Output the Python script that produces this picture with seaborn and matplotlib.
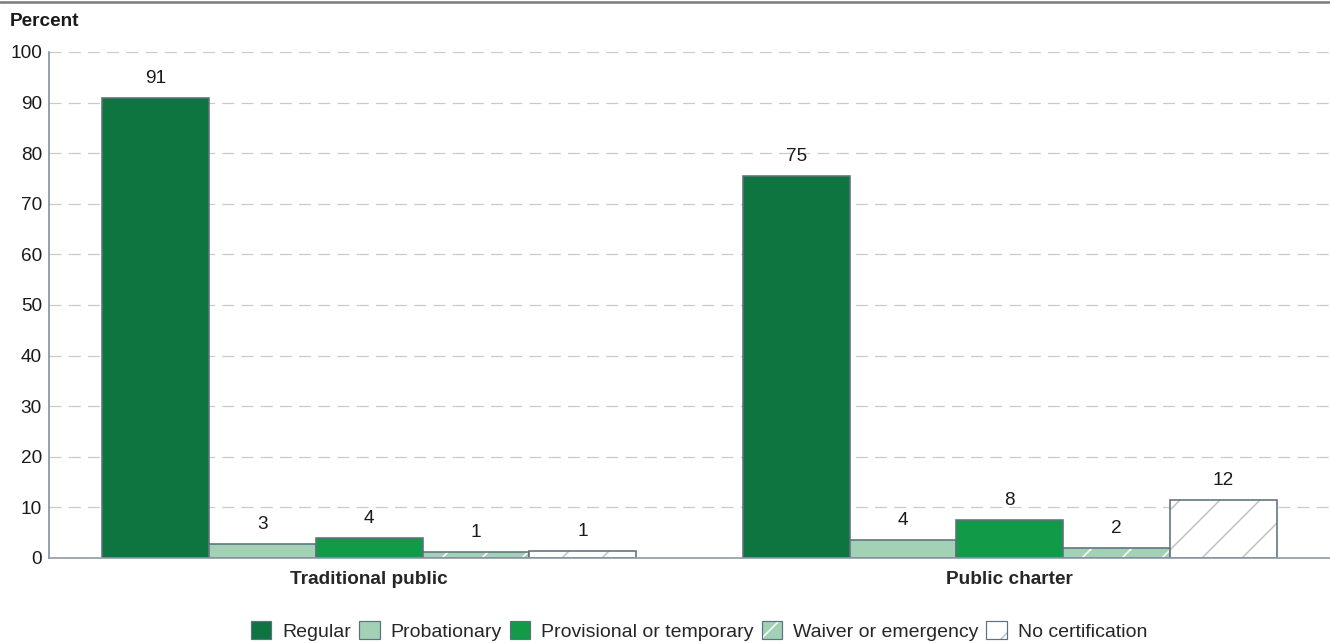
import pandas as pd
import matplotlib.pyplot as plt
import matplotlib.colors as mcolors
from matplotlib.patches import Patch
from matplotlib.lines import Line2D
import seaborn as sns

# data
groups = ["Traditional public", "Public charter"]
statuses = ["Regular", "Probationary", "Provisional or temporary",
            "Waiver or emergency", "No certification"]
traditional = [90.9, 2.8, 3.9, 1.2, 1.3]
charter = [75.4, 3.6, 7.6, 1.9, 11.5]

colors = ["#0e7540", "#a3d1b5", "#119a48", "#a3d1b5", "#ffffff"]
hatches = [None, None, None, "//", "//"]
hatch_colors = [None, None, None, "#ffffff", "#c4c4c4"]
edge = "#5e717e"

DPI = 240
def px(p):
    # pixel -> points at our dpi
    return p * 72 / DPI

rows = []
for g, vals in zip(groups, [traditional, charter]):
    for s, v in zip(statuses, vals):
        rows.append({"group": g, "status": s, "percent": v})
df = pd.DataFrame(rows)

sns.set_style("white")
plt.rcParams["font.family"] = ["Liberation Sans", "DejaVu Sans"]
plt.rcParams["hatch.linewidth"] = px(1.6)

fig = plt.figure(figsize=(1330 / DPI, 643 / DPI), dpi=DPI)
ax = fig.add_axes([49 / 1330, 1 - 558 / 643, 1 - 49 / 1330, (558 - 52) / 643])

sns.barplot(data=df, x="group", y="percent", hue="status", hue_order=statuses,
            palette=colors, width=0.833, edgecolor=edge, linewidth=px(1.6),
            saturation=1, legend=False, ax=ax, zorder=3)

def set_hatch(p, h, hc):
    p.set_hatch(h)
    if hasattr(p, "set_hatchcolor"):
        p.set_hatchcolor(hc)
    else:
        p._hatch_color = mcolors.to_rgba(hc)

fs = px(19)
for i, cont in enumerate(ax.containers):
    if hatches[i]:
        for p in cont:
            set_hatch(p, hatches[i], hatch_colors[i])
    labels = [f"{round(v.get_height()):.0f}" for v in cont]
    ax.bar_label(cont, labels=labels, padding=px(11), fontsize=fs, color="#1a1a1a")

ax.set_ylim(0, 100)
ax.set_xlim(-0.5, 1.5)
ax.set_yticks(range(0, 101, 10))
ax.set_xlabel("")
ax.set_ylabel("")
ax.yaxis.grid(True, color="#c9c9c9", linewidth=px(1.2), linestyle=(0, (10, 6)), zorder=0)
ax.tick_params(axis="y", length=0, pad=px(7), labelsize=fs, labelcolor="#1a1a1a")
ax.tick_params(axis="x", length=0, pad=px(13), labelsize=fs)
for lab in ax.get_xticklabels():
    lab.set_fontweight("bold")
for s in ["top", "right"]:
    ax.spines[s].set_visible(False)
ax.spines["left"].set_color("#7d8b99")
ax.spines["left"].set_linewidth(px(1.6))
ax.spines["bottom"].set_color("#8c96a0")
ax.spines["bottom"].set_linewidth(px(1.6))
ax.spines["bottom"].set_zorder(4)

# top rule and axis title
fig.add_artist(Line2D([0, 1], [1 - 1.5 / 643, 1 - 1.5 / 643], color="#7a7a7a",
                      linewidth=px(2.5), transform=fig.transFigure))
fig.text(10 / 1330, 1 - 21 / 643, "Percent", fontsize=fs, fontweight="bold",
         va="center", ha="left", color="#1a1a1a")

handles = []
for i, s in enumerate(statuses):
    h = Patch(facecolor=colors[i], edgecolor=edge, linewidth=px(1.2), label=s)
    if hatches[i]:
        set_hatch(h, hatches[i], hatch_colors[i])
    handles.append(h)
fig.legend(handles=handles, loc="center", bbox_to_anchor=(699 / 1330, 1 - 631 / 643),
           ncol=5, frameon=False, fontsize=px(19.5), handlelength=1.05, handleheight=1.05,
           handletextpad=0.55, columnspacing=0.42, borderaxespad=0, borderpad=0)

fig.savefig("out.png", dpi=DPI)
